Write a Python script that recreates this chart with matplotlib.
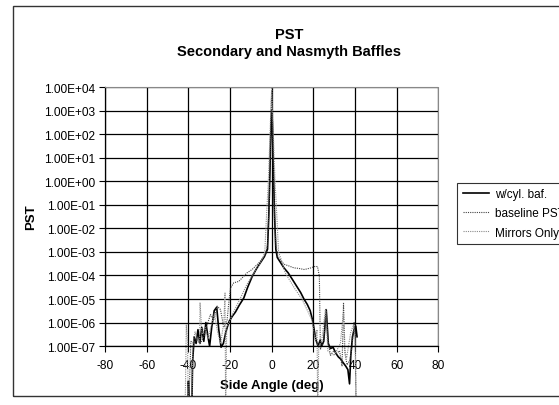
import matplotlib
matplotlib.use("Agg")
import matplotlib.pyplot as plt
from matplotlib.patches import Rectangle
from matplotlib.ticker import FixedLocator, FuncFormatter

# -- data (1e-10 = drops below the axis) ------------------------------------
angle_cyl = [-40.3, -40.0, -39.2, -38.4, -38.0, -37.2, -36.3, -35.4, -34.5,
             -33.6, -32.6, -31.6, -30.6, -29.8, -28.8, -27.6, -26.4, -25.4,
             -24.3, -23.2, -22.0, -20.5, -19.0, -17.4, -15.5, -13.4, -11.5,
             -9.4, -7.5, -5.4, -3.5, -2.0, -1.4, -0.8, -0.3, 0.0, 0.3, 0.8,
             1.4, 2.0, 2.7, 4.3, 5.9, 7.9, 9.9, 12.0, 13.9, 15.5, 17.1, 18.5,
             19.6, 20.4, 21.2, 22.3, 23.3, 24.0, 25.0, 26.2, 27.2, 28.2, 29.5,
             30.8, 32.0, 33.2, 34.3, 35.6, 36.6, 37.4, 38.0, 38.8, 39.6, 40.4,
             41.0]
pst_cyl = [1e-10, 3.2e-9, 1e-10, 1e-10, 2.0e-8, 2.5e-7, 1.3e-7, 5.0e-7,
           1.3e-7, 6.3e-7, 1.6e-7, 1.0e-6, 2.5e-7, 1.0e-7, 6.3e-7, 3.2e-6,
           4.5e-6, 5.0e-7, 9.0e-8, 1.3e-7, 4.0e-7, 1.1e-6, 1.8e-6, 2.8e-6,
           5.6e-6, 1.1e-5, 3.2e-5, 8.9e-5, 1.8e-4, 3.5e-4, 6.3e-4, 1.3e-3,
           3.2e-2, 3.2e0, 3.2e2, 1.0e3, 3.2e2, 3.2e0, 3.2e-2, 1.3e-3, 5.8e-4,
           3.5e-4, 2.1e-4, 1.3e-4, 6.9e-5, 3.5e-5, 1.9e-5, 1.0e-5, 5.9e-6,
           3.2e-6, 1.3e-6, 5.0e-7, 1.9e-7, 1.0e-7, 1.8e-7, 1.0e-7, 1.6e-7,
           3.5e-6, 1.3e-7, 7.9e-8, 8.9e-8, 5.0e-8, 3.5e-8, 2.8e-8, 2.0e-8,
           1.4e-8, 1.0e-8, 2.5e-9, 4.0e-8, 2.5e-7, 5.0e-7, 7.1e-7, 2.5e-7]

angle_base = [-40.6, -40.0, -38.8, -37.4, -36.0, -34.2, -32.6, -31.0, -29.4,
              -27.8, -26.2, -24.6, -23.0, -21.4, -20.6, -19.8, -18.2, -15.8,
              -14.2, -11.8, -9.4, -6.2, -3.0, -2.0, -1.2, -0.5, 0.0, 0.5,
              1.2, 2.0, 3.0, 5.9, 8.5, 10.7, 13.0, 15.5, 17.0, 18.8, 20.5,
              22.0, 22.9, 23.4, 24.2, 25.2, 26.2, 27.0, 28.2, 29.8, 31.2,
              32.6, 33.8, 34.5, 35.2, 36.2, 37.5, 38.6, 39.6, 40.2, 40.6]
pst_base = [1e-10, 1e-10, 1.6e-7, 1.4e-7, 2.0e-7, 1.3e-7, 2.6e-7, 7.9e-7,
            2.2e-6, 1.3e-6, 5.0e-6, 3.6e-6, 6.3e-7, 1.3e-6, 6.9e-6, 2.9e-5,
            4.9e-5, 5.6e-5, 7.9e-5, 1.3e-4, 1.8e-4, 3.4e-4, 7.8e-4, 2.0e-3,
            1.0e-1, 2.0e2, 6.3e3, 2.0e2, 1.0e-1, 2.0e-3, 6.3e-4, 3.0e-4,
            2.5e-4, 2.1e-4, 2.0e-4, 1.8e-4, 1.9e-4, 2.1e-4, 2.4e-4, 2.4e-4,
            9.3e-5, 7.2e-8, 1.1e-7, 2.5e-7, 4.0e-6, 2.0e-7, 4.0e-8, 6.3e-8,
            5.0e-8, 6.3e-8, 1.4e-8, 7.1e-6, 5.0e-8, 1.6e-8, 2.5e-8, 1.0e-7,
            1.0e-6, 2.0e-7, 1e-10]

angle_mirr = [-41.6, -41.0, -40.4, -40.0, -38.4, -37.8, -36.8, -35.6, -34.6,
              -34.4, -33.5, -32.0, -30.5, -29.0, -27.5, -26.0, -24.5, -23.0,
              -22.4, -22.1, -21.6, -20.0, -18.0, -15.0, -12.0, -9.0, -6.0,
              -4.0, -3.3, -2.5, -1.6, -0.8, -0.3, 0.0, 0.3, 0.8, 1.6, 2.5,
              3.3, 4.5, 6.5, 9.0, 11.3, 14.5, 17.0, 19.3, 20.9, 21.8, 22.1,
              22.6, 24.0, 25.8, 27.0, 30.0, 33.0, 34.4, 35.0, 36.0, 38.0,
              39.3, 40.0, 40.6]
pst_mirr = [1e-10, 7.9e-7, 1.6e-7, 1e-10, 1e-10, 1.3e-7, 4.0e-7, 1.6e-7,
            1.3e-7, 7.1e-6, 3.2e-7, 6.3e-7, 2.0e-7, 7.9e-7, 2.5e-6, 4.0e-7,
            1.3e-7, 1.0e-6, 1.8e-5, 1e-10, 6.3e-7, 1.3e-6, 3.2e-6, 1.1e-5,
            4.0e-5, 1.1e-4, 2.8e-4, 6.3e-4, 1.0e-3, 3.2e-2, 1.0e0, 1.0e2,
            2.0e3, 1.0e4, 2.0e3, 1.0e2, 1.0e0, 3.2e-2, 1.0e-3, 5.0e-4,
            1.3e-4, 5.6e-5, 2.6e-5, 1.0e-5, 3.5e-6, 1.3e-6, 1.9e-7, 5.0e-7,
            1e-10, 1.0e-7, 1.6e-7, 3.5e-6, 6.3e-8, 4.0e-8, 1.3e-7, 2.5e-6,
            7.1e-8, 3.2e-8, 4.0e-7, 7.9e-7, 3.2e-7, 1e-10]

series_labels = ["w/cyl. baf.", "baseline PST", "Mirrors Only"]
y_ticks = [1e-7, 1e-6, 1e-5, 1e-4, 1e-3, 1e-2, 1e-1, 1e0, 1e1, 1e2, 1e3, 1e4]
x_ticks = [-80, -60, -40, -20, 0, 20, 40, 60, 80]

# -- style --------------------------------------------------------------------
plt.rcParams.update({
    "font.family": "Liberation Sans",
    "axes.unicode_minus": False,
})

fig = plt.figure(figsize=(5.59, 4.06), dpi=100)
ax = fig.add_axes([0.188, 0.145, 0.596, 0.638])

# chart-area border (runs off the right edge like the scan)
fig.patches.append(Rectangle((0.023, 0.022), 1.05, 0.961,
                             transform=fig.transFigure, fill=False,
                             edgecolor="#333333", linewidth=1.0))

l1, = ax.plot(angle_cyl, pst_cyl, "-", color="black", lw=1.2,
              label=series_labels[0])
l2, = ax.plot(angle_base, pst_base, color="#444444", lw=0.8,
              linestyle=(0, (1, 1)), label=series_labels[1])
l3, = ax.plot(angle_mirr, pst_mirr, color="#8a8a8a", lw=0.8,
              linestyle=(0, (1, 1)), label=series_labels[2])

ax.set_yscale("log")
ax.set_xlim(-80, 80)
ax.set_ylim(1e-7, 1e4)

# Excel lets lines run below the plot area down to the chart border
pos = ax.get_position()
clip = Rectangle((0.023, 0.022), 0.96, pos.y1 - 0.022,
                 transform=fig.transFigure)
for ln in (l1, l2, l3):
    ln.set_clip_path(clip)

ax.yaxis.set_major_locator(FixedLocator(y_ticks))
ax.yaxis.set_minor_locator(FixedLocator([]))
ax.yaxis.set_major_formatter(FuncFormatter(lambda v, p: f"{v:.2E}"))
ax.set_xticks(x_ticks)
ax.tick_params(axis="both", direction="out", length=4, width=0.8,
               labelsize=8.6, color="black")
ax.tick_params(axis="y", pad=3)
ax.tick_params(axis="x", pad=5)

ax.grid(True, which="major", color="black", linewidth=0.9)
ax.set_axisbelow(True)
for side in ("left", "bottom"):
    ax.spines[side].set_color("black")
    ax.spines[side].set_linewidth(0.9)
for side in ("top", "right"):
    ax.spines[side].set_color("#888888")
    ax.spines[side].set_linewidth(0.8)
    ax.spines[side].set_linestyle((0, (1, 1)))

ax.set_xlabel("Side Angle (deg)", fontsize=9.5, fontweight="bold")
ax.xaxis.set_label_coords(0.5, -0.125)
ax.set_ylabel("PST", fontsize=9.5, fontweight="bold")
ax.yaxis.set_label_coords(-0.205, 0.5)

fig.text(0.517, 0.915, "PST", ha="center", va="center",
         fontsize=10.5, fontweight="bold")
fig.text(0.517, 0.872, "Secondary and Nasmyth Baffles", ha="center",
         va="center", fontsize=10.5, fontweight="bold")

leg = fig.legend(handles=[l1, l2, l3], loc="upper left",
                 bbox_to_anchor=(0.818, 0.548), fontsize=8.5, frameon=True,
                 fancybox=False, edgecolor="black", handlelength=2.2,
                 handletextpad=0.5, labelspacing=0.6, borderpad=0.5,
                 borderaxespad=0)
leg.get_frame().set_linewidth(0.8)

fig.savefig("out.png", dpi=100)
